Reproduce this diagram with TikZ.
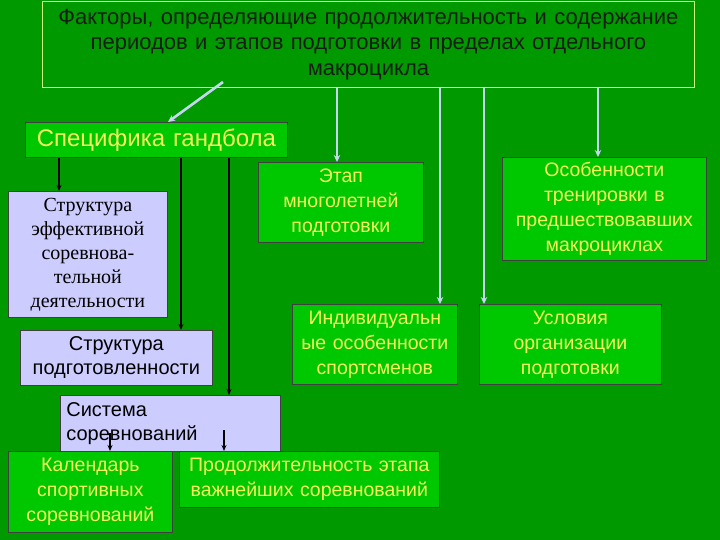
\documentclass[tikz,border=0pt]{standalone}
\usepackage{fontspec}
\setmainfont{Liberation Serif}
\setsansfont{Liberation Sans}
\usetikzlibrary{arrows.meta}
\definecolor{bg}{RGB}{0,153,0}
\definecolor{boxgreen}{RGB}{0,200,0}
\definecolor{txtyellow}{RGB}{245,245,90}
\definecolor{lav}{RGB}{204,204,255}
\definecolor{topborder}{RGB}{204,255,120}
\definecolor{lblue}{RGB}{195,215,240}
\definecolor{toptext}{RGB}{20,30,20}
\tikzset{
  gbox/.style={draw=black!75, line width=0.7pt, fill=boxgreen, text=txtyellow, anchor=north west,
    inner xsep=0pt, inner ysep=1pt, align=center, font=\sffamily\fontsize{19.5}{25}\selectfont},
  lbox/.style={draw=black!75, line width=0.7pt, fill=lav, text=black, anchor=north west,
    inner xsep=0pt, inner ysep=1pt, align=center, font=\sffamily\fontsize{20}{24}\selectfont},
  barrow/.style={draw=black, line width=1.2pt, -{Stealth[length=6pt,width=5pt]}},
  larrow/.style={draw=lblue, line width=2.6pt, -{Stealth[length=7pt,width=6.5pt]}},
}
\begin{document}
\begin{tikzpicture}[x=1pt,y=-1pt]
\fill[bg] (0,0) rectangle (720,540);
\useasboundingbox (0,0) rectangle (720,540);
% top box
\node[draw=topborder, line width=0.8pt, anchor=north west, minimum width=652, minimum height=86,
  text width=640, align=center, inner xsep=6pt, inner ysep=0pt, text=toptext,
  font=\sffamily\fontsize{22}{25.5}\selectfont] (top) at (42,1)
  {Факторы, определяющие продолжительность и содержание\\ периодов и этапов подготовки в пределах отдельного\\ макроцикла};
% green boxes
\node[gbox, text width=262, minimum height=35, font=\sffamily\fontsize{24}{26}\selectfont] (spec) at (25,122) {Специфика гандбола};
\node[gbox, text width=165, minimum height=80] (etap) at (258,162) {Этап\\ многолетней\\ подготовки};
\node[gbox, text width=204, minimum height=103] (osob) at (502,157) {Особенности\\ тренировки в\\ предшествовавших\\ макроциклах};
\node[gbox, text width=165, minimum height=80] (ind) at (292,304) {Индивидуальн\\ ые особенности\\ спортсменов};
\node[gbox, text width=182, minimum height=80] (usl) at (479,304) {Условия\\ организации\\ подготовки};
% lavender boxes
\node[lbox, text width=159, minimum height=126, font=\rmfamily\fontsize{20}{24}\selectfont] (struk) at (8,191) {Структура\\ эффективной\\ соревнова-\\ тельной\\ деятельности};
\node[lbox, text width=192, minimum height=55] (podg) at (20,330) {Структура\\ подготовленности};
\node[lbox, text width=208, minimum height=56, align=left, inner xsep=6pt, anchor=north west] (sist) at (60,395) {Система\\ соревнований};
% bottom green boxes
\node[gbox, text width=164, minimum height=81] (kal) at (8,451) {Календарь\\ спортивных\\ соревнований};
\node[gbox, text width=260, minimum height=56] (prod) at (179,451) {Продолжительность этапа\\ важнейших соревнований};
% coordinates for connector x positions
\coordinate (d1) at (223,82);
\coordinate (d2) at (168,0);
\coordinate (xe) at (337,0);
\coordinate (xi) at (440,0);
\coordinate (xu) at (484,0);
\coordinate (xo) at (598,0);
\coordinate (b1) at (59,0);
\coordinate (b2) at (181,0);
\coordinate (b3) at (229,0);
\coordinate (s1) at (110,433);
\coordinate (s2) at (224,430);
% light blue arrows
\draw[larrow] (d1) -- (spec.north -| d2);
\draw[larrow] (top.south -| xe) -- (etap.north -| xe);
\draw[larrow] (top.south -| xi) -- (ind.north -| xi);
\draw[larrow] (top.south -| xu) -- (usl.north -| xu);
\draw[larrow] (top.south -| xo) -- (osob.north -| xo);
% black arrows
\draw[barrow] (spec.south -| b1) -- (struk.north -| b1);
\draw[barrow] (spec.south -| b2) -- (podg.north -| b2);
\draw[barrow] (spec.south -| b3) -- (sist.north -| b3);
\draw[barrow] (s1) -- (kal.north -| s1);
\draw[barrow] (s2) -- (prod.north -| s2);
\end{tikzpicture}
\end{document}
